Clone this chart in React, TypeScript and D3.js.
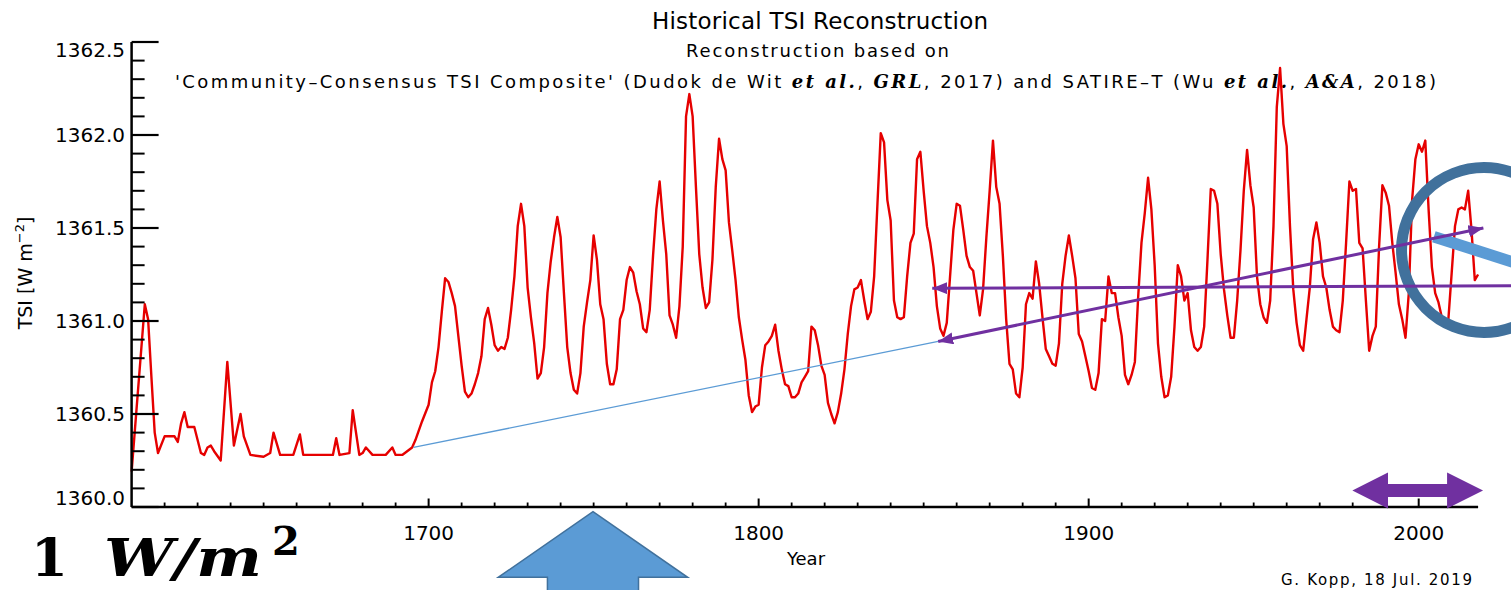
import React from "react";
import * as d3 from "d3";

const W = 1511;
const H = 590;

const earlyYears = [
  1610, 1614, 1615, 1616, 1617, 1618, 1620, 1623, 1624, 1625, 1626, 1627, 1629, 1631, 1632, 1633,
  1634, 1635, 1637, 1639, 1641, 1643, 1644, 1646, 1650, 1652, 1653, 1655, 1659, 1661, 1662, 1671,
  1672, 1673, 1676, 1677, 1679, 1680, 1681, 1683, 1687, 1689, 1690, 1692, 1695, 1696, 1698,
];
const earlyTsi = [
  1360.19, 1361.09, 1361.01, 1360.7, 1360.4, 1360.29, 1360.38, 1360.38, 1360.35, 1360.45, 1360.51,
  1360.43, 1360.43, 1360.29, 1360.28, 1360.32, 1360.33, 1360.3, 1360.25, 1360.78, 1360.33, 1360.5,
  1360.38, 1360.28, 1360.27, 1360.29, 1360.4, 1360.28, 1360.28, 1360.39, 1360.28, 1360.28, 1360.37,
  1360.28, 1360.29, 1360.52, 1360.28, 1360.29, 1360.32, 1360.28, 1360.28, 1360.32, 1360.28, 1360.28,
  1360.32, 1360.36, 1360.46,
];

// yearly values from 1700 on
const annualStart = 1700;
const annualTsi = [
  1360.55, 1360.67, 1360.73, 1360.86, 1361.05, 1361.23, 1361.21, 1361.15, 1361.08, 1360.92,
  1360.76, 1360.62, 1360.59, 1360.61, 1360.66, 1360.72, 1360.81, 1361.01, 1361.07, 1360.98,
  1360.87, 1360.84, 1360.86, 1360.85, 1360.91, 1361.06, 1361.24, 1361.51, 1361.63, 1361.51,
  1361.18, 1361.02, 1360.88, 1360.69, 1360.72, 1360.86, 1361.15, 1361.32, 1361.45, 1361.56,
  1361.45, 1361.15, 1360.86, 1360.72, 1360.63, 1360.61, 1360.72, 1360.97, 1361.1, 1361.22,
  1361.46, 1361.33, 1361.09, 1361.01, 1360.77, 1360.66, 1360.66, 1360.74, 1361.01, 1361.06,
  1361.22, 1361.29, 1361.26, 1361.16, 1361.09, 1360.96, 1360.94, 1361.06, 1361.35, 1361.6,
  1361.75, 1361.54, 1361.36, 1361.03, 1360.98, 1360.91, 1361.08, 1361.4, 1362.1, 1362.22,
  1362.1, 1361.72, 1361.36, 1361.18, 1361.07, 1361.1, 1361.33, 1361.72, 1361.98, 1361.87,
  1361.81, 1361.53, 1361.38, 1361.22, 1361.02, 1360.9, 1360.79, 1360.6, 1360.51, 1360.54,
  1360.55, 1360.75, 1360.87, 1360.89, 1360.92, 1360.98, 1360.84, 1360.74, 1360.66, 1360.65,
  1360.59, 1360.59, 1360.61, 1360.67, 1360.7, 1360.73, 1360.97, 1360.95, 1360.87, 1360.76,
  1360.71, 1360.56, 1360.5, 1360.45, 1360.51, 1360.61, 1360.74, 1360.93, 1361.08, 1361.17,
  1361.18, 1361.22, 1361.11, 1361.01, 1361.05, 1361.24, 1361.63, 1362.01, 1361.96, 1361.65,
  1361.54, 1361.11, 1361.02, 1361.01, 1361.02, 1361.24, 1361.42, 1361.47, 1361.87, 1361.91,
  1361.7, 1361.51, 1361.42, 1361.29, 1361.08, 1360.96, 1360.92, 1360.99, 1361.24, 1361.49,
  1361.63, 1361.62, 1361.49, 1361.35, 1361.29, 1361.27, 1361.15, 1361.03, 1361.17, 1361.45,
  1361.7, 1361.97, 1361.72, 1361.63, 1361.35, 1361.01, 1360.77, 1360.74, 1360.61, 1360.59,
  1360.75, 1361.09, 1361.15, 1361.12, 1361.32, 1361.2, 1361.02, 1360.85, 1360.81, 1360.77,
  1360.76, 1360.88, 1361.2, 1361.35, 1361.46, 1361.35, 1361.23, 1360.93, 1360.89, 1360.81,
  1360.73, 1360.64, 1360.63, 1360.72, 1361.01, 1361.0, 1361.24, 1361.15, 1361.15, 1361.02,
  1360.92, 1360.71, 1360.66, 1360.71, 1360.78, 1361.13, 1361.42, 1361.58, 1361.77, 1361.6,
  1361.3, 1360.88, 1360.7, 1360.59, 1360.6, 1360.7, 1360.97, 1361.3, 1361.24, 1361.11,
  1361.15, 1360.95, 1360.86, 1360.84, 1360.86, 1360.97, 1361.33, 1361.71, 1361.7, 1361.63,
  1361.36, 1361.17, 1361.03, 1360.91, 1360.91, 1361.11, 1361.38, 1361.7, 1361.92, 1361.73,
  1361.61, 1361.24, 1361.09, 1361.02, 1360.99, 1361.11, 1361.51, 1362.15, 1362.36, 1362.06,
  1361.94, 1361.51, 1361.17, 1360.99, 1360.87, 1360.84, 1361.01, 1361.18, 1361.44, 1361.53,
  1361.42, 1361.24, 1361.18, 1361.06, 1360.97, 1360.95, 1360.94, 1361.11, 1361.42, 1361.75,
  1361.7, 1361.71, 1361.42, 1361.39, 1361.11, 1360.84, 1360.92, 1360.97, 1361.4, 1361.73,
  1361.69, 1361.62, 1361.42, 1361.26, 1361.09, 1361.01, 1360.91, 1361.15, 1361.65, 1361.87,
  1361.95, 1361.91, 1361.97, 1361.6, 1361.29, 1361.15, 1361.1, 1361.02, 1360.99, 1361.01,
  1361.26, 1361.51, 1361.6, 1361.61, 1361.6, 1361.7, 1361.49, 1361.22, 1361.25,
];

const xMajor = [1700, 1800, 1900, 2000];
const yMajor = [1360.0, 1360.5, 1361.0, 1361.5, 1362.0, 1362.5];

// annotation anchors, in data units (year, TSI)
const trendFrom: [number, number] = [1695.4, 1360.32];
const trendTo: [number, number] = [1854.4, 1360.89];
const trendTip: [number, number] = [2019.6, 1361.5];
const levelFrom: [number, number] = [1852.6, 1361.176];
const levelTo: [number, number] = [2030, 1361.19];
const ringCenter: [number, number] = [2019.8, 1361.382];
const barFrom: [number, number] = [2004.6, 1361.453];
const barTo: [number, number] = [2054.9, 1361.167];
const upArrowYear = 1749.8;
const satEra = [1979.9, 2019.5];

const PURPLE = "#7030a0";
const BLUE = "#5b9bd5";
const DARKBLUE = "#41719c";

export default function App() {
  const series = [
    ...earlyYears.map((y, i) => ({ year: y, tsi: earlyTsi[i] })),
    ...annualTsi.map((v, i) => ({ year: annualStart + i, tsi: v })),
  ];

  const x = d3.scaleLinear().domain([1610, 2018]).range([131.6, 1478.1]);
  const y = d3.scaleLinear().domain([1360, 1362.5]).range([507, 42]);
  const [x0, x1] = x.range();
  const [yb, yt] = y.range();

  const line = d3
    .line<{ year: number; tsi: number }>()
    .x((d) => x(d.year))
    .y((d) => y(d.tsi));

  const xMinor = d3.range(1620, 2011, 10).filter((v) => v % 100 !== 0);
  const yMinor = d3.range(0, 26).map((i) => 1360 + i * 0.1).filter((_, i) => i % 5 !== 0);

  const px = (p: [number, number]) => [x(p[0]), y(p[1])];
  const [tfx, tfy] = px(trendFrom);
  const [ttx, tty] = px(trendTo);
  const [tpx, tpy] = px(trendTip);
  const [lfx, lfy] = px(levelFrom);
  const [ltx, lty] = px(levelTo);
  const [rcx, rcy] = px(ringCenter);
  const [bfx, bfy] = px(barFrom);
  const [btx, bty] = px(barTo);

  // big blue arrow under the axis
  const ax = x(upArrowYear);
  const headW = x(upArrowYear + 28.7) - ax;
  const shaftW = x(upArrowYear + 13.8) - ax;
  const tipY = yb + 4.7;
  const baseY = yb + 70.3;
  const upArrow = `M${ax},${tipY} L${ax + headW},${baseY} L${ax + shaftW},${baseY} L${ax + shaftW},${H + 20} L${ax - shaftW},${H + 20} L${ax - shaftW},${baseY} L${ax - headW},${baseY} Z`;

  // purple double arrow over the satellite era
  const sL = x(satEra[0]);
  const sR = x(satEra[1]);
  const sLb = x(1990.7);
  const sRb = x(2008.6);
  const cy = yb - 16.5;
  const dbl = `M${sL},${cy} L${sLb},${cy - 18} L${sLb},${cy - 6.5} L${sRb},${cy - 6.5} L${sRb},${cy - 18} L${sR},${cy} L${sRb},${cy + 18} L${sRb},${cy + 6.5} L${sLb},${cy + 6.5} L${sLb},${cy + 18} Z`;

  const fmt = d3.format(".1f");

  return (
    <svg
      width={W}
      height={H}
      style={{ position: "absolute", left: 0, top: 0, background: "#fff" }}
      fontFamily="DejaVu Sans"
    >
      <defs>
        <marker
          id="ah"
          markerUnits="userSpaceOnUse"
          markerWidth={16}
          markerHeight={13}
          refX={15}
          refY={6}
          orient="auto-start-reverse"
        >
          <path d="M0,0 L15,6 L0,12 Z" fill={PURPLE} />
        </marker>
      </defs>

      {/* titles */}
      <text x={652} y={29} fontSize={23} textLength={336} lengthAdjust="spacing">
        Historical TSI Reconstruction
      </text>
      <text x={686} y={57} fontSize={18} textLength={263} lengthAdjust="spacing">
        Reconstruction based on
      </text>
      <text x={175} y={88} fontSize={18} textLength={1261} lengthAdjust="spacing">
        {"'Community\u2013Consensus TSI Composite' (Dudok de Wit "}
        <tspan fontFamily="DejaVu Serif" fontWeight="bold" fontStyle="italic">et al.</tspan>
        {", "}
        <tspan fontFamily="DejaVu Serif" fontWeight="bold" fontStyle="italic">GRL</tspan>
        {", 2017) and SATIRE\u2013T (Wu "}
        <tspan fontFamily="DejaVu Serif" fontWeight="bold" fontStyle="italic">et al.</tspan>
        {", "}
        <tspan fontFamily="DejaVu Serif" fontWeight="bold" fontStyle="italic">A&amp;A</tspan>
        {", 2018)"}
      </text>

      {/* data */}
      <path d={line(series) ?? ""} fill="none" stroke="#e60000" strokeWidth={2.4} strokeLinejoin="round" />

      {/* axes */}
      <g stroke="#000">
        <line x1={x0} x2={x0} y1={yt} y2={yb} strokeWidth={2.5} />
        <line x1={x0} x2={x1} y1={yb} y2={yb} strokeWidth={2.5} />
        {yMajor.map((v) => (
          <line key={"ym" + v} x1={x0} x2={x0 + 27} y1={y(v)} y2={y(v)} strokeWidth={2.2} />
        ))}
        {yMinor.map((v) => (
          <line key={"yn" + v} x1={x0} x2={x0 + 13} y1={y(v)} y2={y(v)} strokeWidth={2} />
        ))}
        {xMajor.map((v) => (
          <line key={"xm" + v} x1={x(v)} x2={x(v)} y1={yb} y2={yb - 8.5} strokeWidth={2} />
        ))}
        {xMinor.map((v) => (
          <line key={"xn" + v} x1={x(v)} x2={x(v)} y1={yb} y2={yb - 4.5} strokeWidth={1.8} />
        ))}
      </g>
      {yMajor.map((v) => (
        <text
          key={"yl" + v}
          x={125}
          y={Math.min(Math.max(y(v), yt + 8), yb - 9)}
          dy="0.36em"
          fontSize={20}
          textAnchor="end"
        >
          {fmt(v)}
        </text>
      ))}
      {xMajor.map((v) => (
        <text key={"xl" + v} x={x(v)} y={540} fontSize={20} textAnchor="middle">
          {v}
        </text>
      ))}
      <text x={806} y={565} fontSize={18} textAnchor="middle">
        Year
      </text>
      <text transform="translate(32,273) rotate(-90)" fontSize={19} textAnchor="middle">
        {"TSI [W m"}
        <tspan dy={-8} fontSize={13}>
          {"\u22122"}
        </tspan>
        <tspan dy={8}>]</tspan>
      </text>
      <text x={1281} y={585} fontSize={15} textLength={191} lengthAdjust="spacing">
        G. Kopp, 18 Jul. 2019
      </text>

      {/* overlays */}
      <line x1={tfx} y1={tfy} x2={ttx} y2={tty} stroke={BLUE} strokeWidth={1.3} />
      <circle cx={rcx} cy={rcy} r={82.5} fill="none" stroke={DARKBLUE} strokeWidth={11} />
      <line x1={bfx} y1={bfy} x2={btx} y2={bty} stroke={BLUE} strokeWidth={11.5} />
      <line
        x1={lfx}
        y1={lfy}
        x2={ltx}
        y2={lty}
        stroke={PURPLE}
        strokeWidth={3}
        markerStart="url(#ah)"
      />
      <line
        x1={ttx}
        y1={tty}
        x2={tpx}
        y2={tpy}
        stroke={PURPLE}
        strokeWidth={3}
        markerStart="url(#ah)"
        markerEnd="url(#ah)"
      />
      <path d={upArrow} fill={BLUE} stroke={DARKBLUE} strokeWidth={1.5} />
      <path d={dbl} fill={PURPLE} />

      {/* big unit label, kept inside the bottom edge */}
      <text x={31} y={576} fontFamily="DejaVu Serif" fontWeight="bold" fontSize={53}>
        1
      </text>
      <text
        x={104}
        y={576}
        fontFamily="DejaVu Serif"
        fontWeight="bold"
        fontStyle="italic"
        fontSize={53}
        textLength={158}
        lengthAdjust="spacingAndGlyphs"
      >
        W/m
      </text>
      <text x={272} y={555} fontFamily="DejaVu Serif" fontWeight="bold" fontSize={40}>
        2
      </text>
    </svg>
  );
}
